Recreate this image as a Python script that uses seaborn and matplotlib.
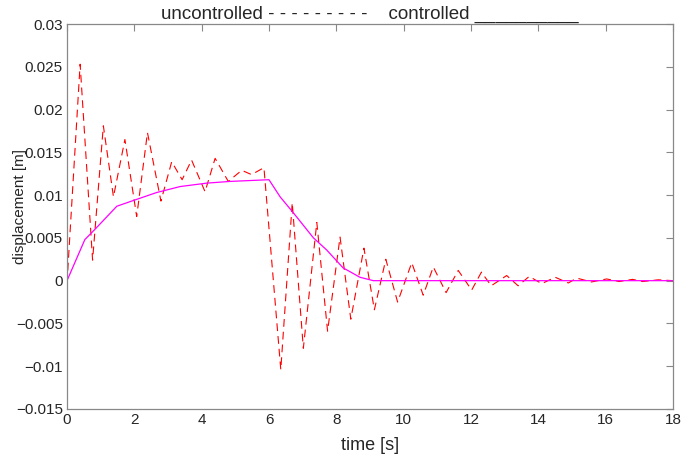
import pandas as pd
import seaborn as sns
import matplotlib.pyplot as plt

# uncontrolled response (peaks / troughs)
t_unc = [0, 0.39, 0.76, 1.08, 1.38, 1.72, 2.07, 2.39, 2.79, 3.11, 3.42, 3.70, 4.10,
         4.40, 4.79, 5.19, 5.48, 5.85, 6.35, 6.69, 7.02, 7.42, 7.74, 8.11, 8.43,
         8.82, 9.13, 9.47, 9.82, 10.24, 10.58, 10.88, 11.26, 11.62, 12.02, 12.31,
         12.60, 13.06, 13.40, 13.73, 14.10, 14.50, 14.89, 15.14, 15.58, 16.03,
         16.40, 16.80, 17.10, 17.56, 18.0]
x_unc = [-0.0003, 0.0253, 0.0024, 0.0181, 0.0098, 0.0165, 0.0075, 0.0173, 0.0093,
         0.0139, 0.0118, 0.0141, 0.0104, 0.0143, 0.0116, 0.0129, 0.0124, 0.0132,
         -0.0104, 0.0091, -0.0079, 0.0068, -0.0059, 0.0051, -0.0045, 0.0038,
         -0.0034, 0.0025, -0.0025, 0.0021, -0.0017, 0.0016, -0.0014, 0.0012,
         -0.0011, 0.0010, -0.0006, 0.0006, -0.0006, 0.0005, -0.00035, 0.0004,
         -0.00027, 0.0003, -0.00015, 0.0002, -0.0001, 0.00015, -0.0001, 0.0001, 0.0]

# controlled response
t_ctl = [0, 0.53, 0.83, 1.48, 1.92, 2.66, 3.36, 4.15, 4.84, 6.0, 6.33, 6.73, 7.32,
         7.71, 8.2, 8.7, 9.1, 18.0]
x_ctl = [0, 0.0048, 0.0060, 0.0087, 0.0093, 0.0103, 0.0110, 0.0114, 0.0116, 0.0118,
         0.0098, 0.0079, 0.0050, 0.0036, 0.0015, 0.0004, 0.0, 0.0]

yticks = [-0.015, -0.01, -0.005, 0, 0.005, 0.01, 0.015, 0.02, 0.025, 0.03]
ylabels = ['\u22120.015', '\u22120.01', '\u22120.005', '0', '0.005', '0.01',
           '0.015', '0.02', '0.025', '0.03']

unc = pd.DataFrame({'t': t_unc, 'x': x_unc})
ctl = pd.DataFrame({'t': t_ctl, 'x': x_ctl})

sns.set_style("white")
plt.rcParams['font.family'] = ['Liberation Sans', 'DejaVu Sans']

fig = plt.figure(figsize=(6.95, 4.55), dpi=100)
ax = fig.add_axes([67 / 695, 1 - 409 / 455, 606 / 695, 385 / 455])

sns.lineplot(data=unc, x='t', y='x', ax=ax, color='#ff0000', lw=0.8,
             linestyle=(0, (7, 4.5)))
sns.lineplot(data=ctl, x='t', y='x', ax=ax, color='#ff00ff', lw=0.9)

ax.set_xlim(0, 18)
ax.set_ylim(-0.015, 0.03)
ax.set_xticks(range(0, 19, 2))
ax.set_yticks(yticks)
ax.set_yticklabels(ylabels)
ax.tick_params(direction='in', length=5, color='#888888', top=True, right=True,
               labelsize=11, pad=3)
for s in ax.spines.values():
    s.set_color('#888888')
    s.set_linewidth(0.9)

ax.set_xlabel('time [s]', fontsize=13)
ax.set_ylabel('displacement [m]', fontsize=11)
ax.yaxis.set_label_coords(-0.066, 0.525)
ax.xaxis.set_label_coords(0.5, -0.073)
ax.set_title('uncontrolled ' + '- ' * 9 + '   controlled ' + '_' * 10,
             fontsize=13.5, pad=4)

fig.savefig('out.png', dpi=100)
